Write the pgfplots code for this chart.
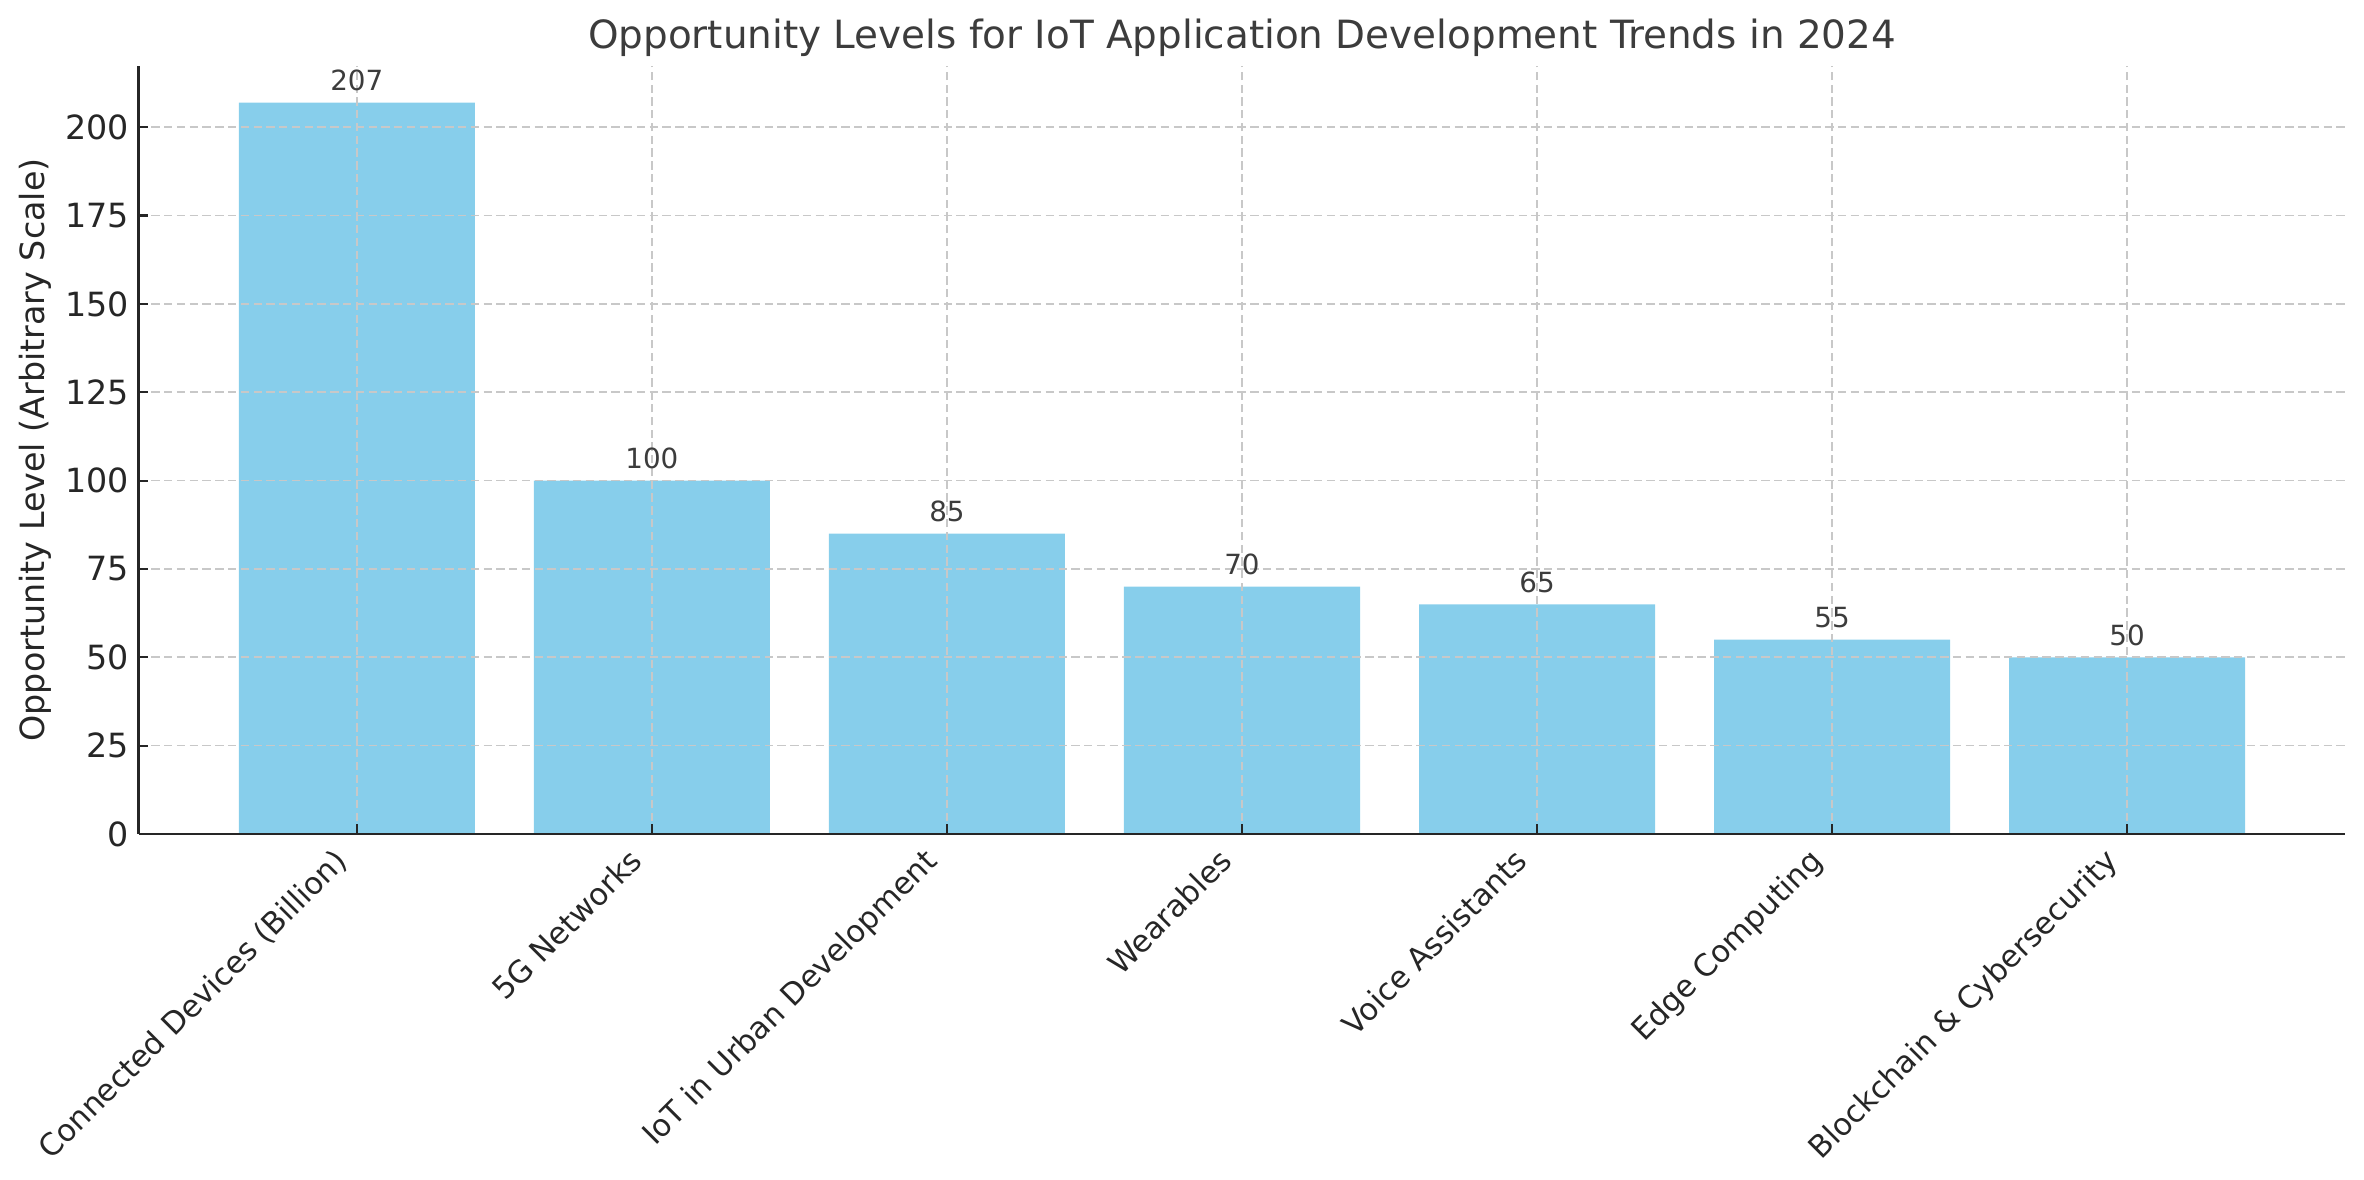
\documentclass[border=0pt]{standalone}
\usepackage{pgfplots}
\pgfplotsset{compat=1.18}
\usepackage{fontspec}
\setmainfont{DejaVu Sans}
\definecolor{barblue}{HTML}{87CEEB}
\definecolor{txt}{HTML}{262626}
\definecolor{gridc}{HTML}{C8C8C8}
\begin{document}
\begin{tikzpicture}
\path[use as bounding box] (0,0) rectangle (851.04pt,424.8pt);
\begin{axis}[
  at={(49.86pt,124.56pt)}, anchor=south west,
  scale only axis, width=794.5pt, height=276.5pt,
  /pgf/number format/assume math mode=true,
  ybar, bar width=0.8, bar shift=0pt,
  xmin=-0.74, xmax=6.74, ymin=0, ymax=217.35,
  xtick={0,1,2,3,4,5,6},
  xticklabels={Connected Devices (Billion),5G Networks,IoT in Urban Development,Wearables,Voice Assistants,Edge Computing,Blockchain \& Cybersecurity},
  ytick={0,25,50,75,100,125,150,175,200},
  axis x line*=bottom, axis y line*=left,
  axis line style={color=txt, line width=0.8pt},
  tick style={color=txt, line width=0.8pt},
  major tick length=3.5pt, tick align=inside,
  axis on top,
  grid=major,
  major grid style={color=gridc, line width=0.6pt, dash pattern=on 3pt off 1.6pt},
  xticklabel style={font=\fontsize{11}{13}\selectfont, color=txt, inner sep=0pt, text height=0.76em, text depth=0.24em, xshift=-4.5pt, yshift=-8.5pt, rotate=45, anchor=east},
  yticklabel style={font=\fontsize{12}{14}\selectfont, color=txt},
  ylabel={Opportunity Level (Arbitrary Scale)},
  ylabel style={font=\fontsize{12}{14}\selectfont, color=txt, at={(axis description cs:-0.0426,0.5)}, anchor=base},
  title={Opportunity Levels for IoT Application Development Trends in 2024},
  title style={font=\fontsize{14}{17}\selectfont, color=txt!90!white, at={(axis description cs:0.5,1)}, anchor=base, yshift=0.4pt},
  nodes near coords,
  nodes near coords style={font=\fontsize{10}{12}\selectfont, color=txt!90!white, anchor=south, inner sep=0pt, yshift=4pt},
]
\addplot[fill=barblue, draw=none] coordinates {
  (0,207) (1,100) (2,85) (3,70) (4,65) (5,55) (6,50)
};
\end{axis}
\end{tikzpicture}
\end{document}
